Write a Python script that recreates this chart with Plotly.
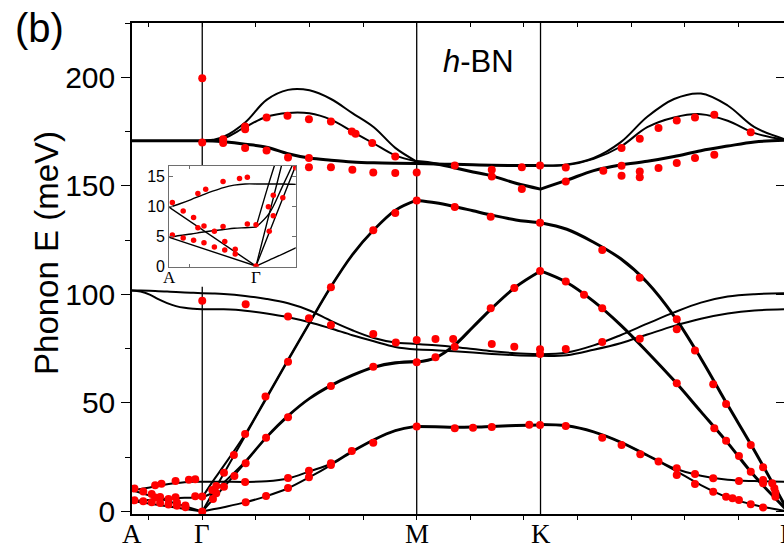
import plotly.graph_objects as go

# ---- path through the Brillouin zone (path coordinate) ----
Q_A, Q_G, Q_M, Q_K, Q_G2 = -1.31, 0.0, 4.0, 6.309, 10.928
point_q = [Q_A, Q_G, Q_M, Q_K, Q_G2]
point_labels = ["A", "Γ", "M", "K", "Γ"]

# knot positions for each segment of the path
q_AG = [-1.31, -1.15, -0.98, -0.82, -0.655, -0.49, -0.33, -0.165, 0.0]
q_AG_ends = [-1.31, 0.0]
q_GM = [0.0, 0.2, 0.4, 0.8, 1.2, 1.6, 2.0, 2.4, 2.8, 3.2, 3.6, 4.0]
q_MK = [4.0, 4.35, 4.7, 5.05, 5.4, 5.85, 6.309]
q_KG = [6.309, 6.8, 7.3, 7.8, 8.3, 8.8, 9.3, 9.8, 10.3, 10.928]

# ---- calculated phonon branches (meV) ----
# A-Gamma
E_AG_opt = [170.8, 170.8]
E_AG_zo_up = [101.8, 101.8, 101.7, 101.5, 101.3, 101.1, 100.9, 100.7, 100.5]
E_AG_zo_lo = [101.8, 101.3, 99.9, 97.8, 96.0, 94.6, 93.8, 93.4, 93.2]
E_AG_b1 = [9.8, 10.4, 11.1, 11.8, 12.5, 13.1, 13.5, 13.7, 13.7]
E_AG_b2 = [9.8, 0.0]
E_AG_s1 = [4.8, 5.1, 5.35, 5.65, 5.9, 6.1, 6.3, 6.4, 6.5]
E_AG_s2 = [4.8, 0.0]

# Gamma-M
E_GM_lo1 = [170.7, 171.2, 172.6, 179.2, 189.6, 194.2, 194.0, 190.0, 183.5, 177.0, 167.5, 161.2]
E_GM_lo2 = [170.7, 171.0, 171.8, 177.0, 181.8, 183.6, 183.4, 180.5, 175.0, 169.5, 164.0, 161.2]
E_GM_to = [170.8, 170.7, 170.3, 169.2, 167.8, 164.8, 162.8, 161.8, 161.0, 160.6, 160.4, 160.3]
E_GM_zo_up = [100.5, 100.4, 100.2, 99.3, 97.9, 95.9, 92.6, 87.8, 83.5, 79.9, 77.8, 77.2]
E_GM_zo_lo = [93.2, 93.2, 93.1, 92.5, 91.2, 89.5, 87.2, 84.3, 81.2, 78.4, 75.8, 74.6]
E_GM_la1 = [0.0, 8.7, 17.4, 34.8, 52.2, 69.5, 86.6, 103.3, 118.0, 129.5, 138.5, 143.2]
E_GM_la2 = [6.5, 14.0, 21.0, 35.6, 52.7, 70.0, 87.1, 103.8, 118.5, 130.0, 139.0, 143.6]
E_GM_ta1 = [0.0, 5.6, 11.2, 22.4, 34.0, 43.8, 51.8, 57.8, 62.5, 66.2, 68.2, 68.8]
E_GM_ta2 = [6.5, 8.8, 13.3, 23.0, 34.5, 44.3, 52.3, 58.3, 63.0, 66.7, 68.7, 69.3]
E_GM_za1 = [0.0, 1.0, 2.0, 4.2, 7.1, 10.7, 15.8, 21.4, 27.5, 32.8, 37.0, 39.1]
E_GM_za2 = [13.7, 13.7, 13.7, 13.6, 13.9, 15.2, 18.5, 22.0, 27.9, 33.2, 37.4, 39.5]

# M-K
E_MK_lo = [161.2, 160.2, 158.3, 156.4, 154.6, 151.2, 148.5]
E_MK_to = [160.3, 160.1, 159.9, 159.7, 159.5, 159.4, 159.4]
E_MK_la = [143.2, 142.2, 140.5, 138.5, 136.5, 134.3, 133.0]
E_MK_zo_up = [77.2, 76.6, 75.8, 74.8, 73.8, 72.9, 72.4]
E_MK_zo_lo = [74.6, 74.3, 73.8, 73.2, 72.6, 72.0, 71.7]
E_MK_ta = [68.8, 70.8, 76.5, 85.0, 93.6, 103.5, 110.8]
E_MK_za = [39.1, 39.0, 38.8, 38.9, 39.2, 39.6, 39.9]

# K-Gamma
E_KG_lo1 = [159.4, 159.8, 162.8, 170.0, 181.8, 190.0, 192.5, 187.0, 177.0, 171.0]
E_KG_lo2 = [159.4, 159.6, 162.4, 168.0, 177.0, 181.5, 183.0, 180.0, 174.3, 171.0]
E_KG_to = [148.5, 152.6, 157.0, 159.6, 161.3, 163.5, 166.2, 168.3, 170.2, 171.0]
E_KG_la = [133.0, 130.0, 124.0, 116.5, 105.5, 90.0, 70.5, 49.0, 28.0, 0.0]
E_KG_ta = [110.8, 105.5, 96.8, 86.0, 73.5, 60.3, 46.0, 31.6, 16.3, 0.0]
E_KG_zo_up = [72.4, 73.2, 76.5, 81.2, 86.5, 91.7, 96.2, 99.0, 100.1, 100.5]
E_KG_zo_lo = [71.7, 72.0, 74.5, 77.5, 81.5, 85.5, 88.8, 91.2, 92.6, 93.2]
E_KG_za1 = [39.9, 39.3, 36.5, 31.8, 25.7, 19.2, 12.2, 6.5, 3.0, 0.0]
E_KG_za2 = [40.3, 39.7, 36.9, 32.2, 26.1, 19.9, 16.5, 14.6, 14.0, 13.7]

# ---- measured points (meV) ----
exp_AG_q = [-1.264, -1.10, -0.943, -0.878, -0.76, -0.498, -0.249, -0.131, -0.131, -0.878,
            -0.786, -0.629, -0.498, -1.264, -1.10, -0.943, -0.786, -0.629, -0.472, -0.472,
            -0.314, -0.314]
exp_AG_E = [10.6, 9.2, 8.1, 12.1, 12.8, 14.1, 14.6, 14.8, 7.0, 6.4,
            6.7, 5.8, 6.6, 5.2, 4.7, 4.3, 3.9, 3.2, 4.1, 2.7,
            2.8, 2.0]

exp_G_q = [0.0, 0.0, 0.0, 0.0, 0.0]
exp_G_E = [199.6, 170.0, 97.1, 6.9, 0.0]

exp_GM_q = [0.39, 0.39, 0.80, 0.80, 0.80, 1.20, 1.20, 1.59, 1.60, 1.99, 1.99, 1.99, 2.40, 2.40,
            2.79, 2.86, 2.80, 3.17, 3.19, 3.60, 3.60, 4.0,
            0.81, 1.60, 1.99, 2.40, 3.19, 3.61, 4.0,
            0.405, 0.59, 0.80, 1.18, 1.60, 2.40, 3.19, 3.60, 4.0,
            0.187, 0.261, 0.20, 0.261, 0.405, 0.60, 0.81, 1.19, 1.60, 2.40, 3.19, 4.0,
            0.81, 1.19, 1.60, 1.99, 2.40, 2.79, 3.19, 4.0,
            0.80, 1.60, 1.99, 2.40]
exp_GM_E = [171.5, 169.7, 177.3, 176.1, 167.4, 181.5, 166.3, 182.3, 163.0, 180.7, 162.8, 158.6, 179.6, 158.6,
            175.0, 174.0, 157.4, 169.7, 156.1, 163.5, 155.9, 156.1,
            95.5, 89.8, 89.0, 85.9, 81.8, 77.8, 79.0,
            17.8, 26.0, 35.7, 53.0, 69.0, 103.3, 129.5, 137.5, 143.2,
            9.9, 11.8, 5.8, 8.4, 11.4, 16.4, 22.2, 34.0, 43.4, 57.8, 66.7, 68.8,
            4.3, 7.1, 10.8, 15.8, 21.4, 27.9, 31.7, 39.1,
            13.6, 15.4, 18.8, 22.2]

exp_MK_q = [4.71, 5.38, 6.30,
            4.35, 4.71, 5.38, 5.82, 6.30,
            4.35, 4.68, 5.40, 5.82, 6.30, 6.30,
            4.71, 5.05, 5.40, 6.10, 6.30,
            4.71, 5.40, 5.40, 5.96, 5.96, 6.30]
exp_MK_E = [140.3, 135.8, 133.0,
            71.1, 75.9, 93.6, 103.0, 110.8,
            79.5, 79.4, 77.2, 75.9, 74.7, 72.6,
            38.3, 38.6, 38.9, 40.0, 39.9,
            159.4, 157.4, 154.3, 158.6, 148.5, 159.4]

exp_KG_q = [6.78, 6.78, 7.48, 7.82, 7.82, 7.82, 8.16, 8.16, 8.16, 8.51, 8.51, 8.85, 8.85,
            9.19, 9.19, 9.55, 9.55, 10.23,
            7.46, 8.16, 8.85, 9.19, 9.53, 9.77, 10.23, 10.46,
            6.78, 7.12, 7.46, 8.85, 9.55, 9.77, 10.01, 10.23,
            6.78, 7.46, 8.16, 8.85,
            6.78, 7.46, 7.82, 8.17, 8.51, 8.85, 8.85, 9.19, 9.19, 9.53, 9.53, 9.77, 9.89,
            10.01, 10.01, 10.23, 10.46, 10.46, 10.46, 10.63, 10.67, 10.69, 10.69]
exp_KG_E = [158.4, 152.0, 156.9, 167.4, 159.2, 154.6, 171.7, 156.6, 154.0, 176.6, 158.2, 180.1, 160.5,
            181.5, 162.8, 182.7, 164.3, 174.7,
            120.5, 107.7, 88.6, 74.1, 58.6, 49.5, 30.6, 20.4,
            105.9, 99.8, 93.6, 59.1, 38.3, 32.6, 25.6, 18.3,
            74.8, 78.1, 79.6, 84.0,
            39.4, 34.0, 30.6, 26.4, 23.0, 19.9, 16.8, 17.3, 12.7, 15.3, 9.1, 6.8, 6.1,
            5.3, 14.0, 3.3, 1.9, 14.5, 13.0, 13.0, 10.7, 8.7, 6.8]

# branches: (knots, energies, drawn as a close pair)
branches_inner = [
    (q_AG_ends, E_AG_opt, True), (q_AG, E_AG_zo_up, False), (q_AG, E_AG_zo_lo, False),
    (q_AG, E_AG_b1, False), (q_AG_ends, E_AG_b2, False),
    (q_AG, E_AG_s1, False), (q_AG_ends, E_AG_s2, False),
    (q_GM, E_GM_lo1, False), (q_GM, E_GM_lo2, False), (q_GM, E_GM_to, True),
    (q_GM, E_GM_zo_up, False), (q_GM, E_GM_zo_lo, False),
    (q_GM, E_GM_la1, False), (q_GM, E_GM_la2, False),
    (q_GM, E_GM_ta1, False), (q_GM, E_GM_ta2, False),
    (q_GM, E_GM_za1, False), (q_GM, E_GM_za2, False),
]
branches_outer = [
    (q_MK, E_MK_lo, True), (q_MK, E_MK_to, True), (q_MK, E_MK_la, True),
    (q_MK, E_MK_zo_up, False), (q_MK, E_MK_zo_lo, False),
    (q_MK, E_MK_ta, True), (q_MK, E_MK_za, True),
    (q_KG, E_KG_lo1, False), (q_KG, E_KG_lo2, False), (q_KG, E_KG_to, True),
    (q_KG, E_KG_la, True), (q_KG, E_KG_ta, True),
    (q_KG, E_KG_zo_up, False), (q_KG, E_KG_zo_lo, False),
    (q_KG, E_KG_za1, False), (q_KG, E_KG_za2, False),
]

fig = go.Figure()


def add_line(q, E, width, xa, ya):
    fig.add_trace(go.Scatter(
        x=q, y=E, mode="lines", xaxis=xa, yaxis=ya,
        line=dict(color="black", width=width, shape="spline", smoothing=1.0),
        showlegend=False, hoverinfo="skip"))


# main panel
for q, E, pair in branches_inner + branches_outer:
    add_line(q, E, 3.0 if pair else 2.0, "x", "y")

exp_q = exp_AG_q + exp_G_q + exp_GM_q + exp_MK_q + exp_KG_q
exp_E = exp_AG_E + exp_G_E + exp_GM_E + exp_MK_E + exp_KG_E
fig.add_trace(go.Scatter(x=exp_q, y=exp_E, mode="markers", xaxis="x", yaxis="y",
                         marker=dict(color="#ff0000", size=8, line=dict(width=0)),
                         showlegend=False, hoverinfo="skip"))

# mirrored frame axes
fig.add_trace(go.Scatter(x=[None], y=[None], xaxis="x2", yaxis="y2", showlegend=False))

# inset: low-energy region around Gamma
for q, E, pair in branches_inner:
    add_line(q, E, 1.8 if pair else 1.4, "x3", "y3")
fig.add_trace(go.Scatter(x=exp_AG_q + exp_G_q + exp_GM_q, y=exp_AG_E + exp_G_E + exp_GM_E,
                         mode="markers", xaxis="x3", yaxis="y3",
                         marker=dict(color="#ff0000", size=5.5, line=dict(width=0)),
                         showlegend=False, hoverinfo="skip"))

SANS = "Liberation Sans, Arial, sans-serif"
SERIF = "Liberation Serif, Times New Roman, serif"
X_RANGE = [Q_A, 10.85]
Y_RANGE = [-1.15, 225]
x_ticks = list(range(-1, 11))
y_major = [0, 50, 100, 150, 200]
y_minor = [25, 75, 125, 175, 225]
inset_frame = "#6e6e6e"

fig.update_layout(
    width=784, height=549,
    margin=dict(l=132, r=0, t=23, b=35),
    paper_bgcolor="white", plot_bgcolor="white",
    showlegend=False,
    xaxis=dict(domain=[0, 1], range=X_RANGE, showgrid=False, zeroline=False,
               showline=True, linecolor="black", linewidth=1.5,
               ticks="outside", ticklen=4, tickwidth=1.2, tickcolor="black",
               tickmode="array", tickvals=x_ticks, showticklabels=False),
    xaxis2=dict(overlaying="x", side="top", anchor="y", range=X_RANGE,
                showgrid=False, zeroline=False, showline=True, linecolor="black", linewidth=1.5,
                ticks="inside", ticklen=4, tickwidth=1.2, tickcolor="black",
                tickmode="array", tickvals=x_ticks, showticklabels=False),
    yaxis=dict(domain=[0, 1], range=Y_RANGE, showgrid=False, zeroline=False,
               showline=True, linecolor="black", linewidth=1.5,
               ticks="outside", ticklen=9, tickwidth=1.3, tickcolor="black",
               tickmode="array", tickvals=y_major,
               tickfont=dict(family=SANS, size=30, color="black"),
               minor=dict(tickmode="array", tickvals=y_minor, ticks="outside",
                          ticklen=5, tickwidth=1.3, tickcolor="black")),
    yaxis2=dict(overlaying="y", side="right", anchor="x", range=Y_RANGE,
                showgrid=False, zeroline=False, showline=False,
                ticks="inside", ticklen=8, tickwidth=1.3, tickcolor="black",
                tickmode="array", tickvals=y_major, showticklabels=False),
    xaxis3=dict(domain=[0.0572, 0.2511], anchor="y3", range=[-1.31, 0.6],
                showgrid=False, zeroline=False, showline=True, mirror="ticks",
                linecolor=inset_frame, linewidth=1.2,
                ticks="inside", ticklen=3, tickwidth=1, tickcolor=inset_frame,
                tickmode="array", tickvals=[-1], showticklabels=False),
    yaxis3=dict(domain=[0.5037, 0.7088], anchor="x3", range=[-0.1, 16.7],
                showgrid=False, zeroline=False, showline=True, mirror="ticks",
                linecolor=inset_frame, linewidth=1.2,
                ticks="inside", ticklen=4, tickwidth=1, tickcolor=inset_frame,
                tickmode="array", tickvals=[0, 5, 10, 15],
                tickfont=dict(family=SANS, size=16, color="black")),
)

# high-symmetry verticals, white backing for the inset, inset Gamma line
shapes = []
for q in (Q_G, Q_M, Q_K):
    shapes.append(dict(type="line", xref="x", yref="y", x0=q, x1=q, y0=Y_RANGE[0], y1=Y_RANGE[1],
                       line=dict(color="black", width=1.3), layer="below"))
shapes.append(dict(type="rect", xref="x", yref="y", x0=-1.18, x1=1.77, y0=103.5, y1=159.2,
                   fillcolor="white", line=dict(width=0), layer="below"))
shapes.append(dict(type="line", xref="x3", yref="y3 domain", x0=Q_G, x1=Q_G, y0=0, y1=1,
                   line=dict(color=inset_frame, width=1.2), layer="below"))
fig.update_layout(shapes=shapes)

# point labels under the axis, placed in paper units so the last one may sit past the edge
x_lo, x_hi = X_RANGE
annotations = []
for q, lab in zip(point_q, point_labels):
    annotations.append(dict(x=(q - x_lo) / (x_hi - x_lo), xref="paper", y=-0.041, yref="paper",
                            text=lab, showarrow=False, xanchor="center", yanchor="middle",
                            font=dict(family=SERIF, size=27, color="black")))
for q, lab in zip([Q_A, Q_G], ["A", "Γ"]):
    annotations.append(dict(x=q, xref="x3", y=0.4817, yref="paper", text=lab, showarrow=False,
                            xanchor="center", yanchor="middle",
                            font=dict(family=SERIF, size=17, color="black")))
annotations.append(dict(x=0.5307, y=0.9206, xref="paper", yref="paper", text="<i>h</i>-BN",
                        showarrow=False, xanchor="center", yanchor="middle",
                        font=dict(family=SANS, size=31, color="black")))
annotations.append(dict(x=-0.1825, y=0.99, xref="paper", yref="paper", text="(b)",
                        showarrow=False, xanchor="left", yanchor="middle",
                        font=dict(family=SANS, size=40, color="black")))
annotations.append(dict(x=-0.1304, y=0.5316, xref="paper", yref="paper", text="Phonon E (meV)",
                        textangle=-90, showarrow=False, xanchor="center", yanchor="middle",
                        font=dict(family=SANS, size=33, color="black")))
fig.update_layout(annotations=annotations)

fig.write_html("out.html")
